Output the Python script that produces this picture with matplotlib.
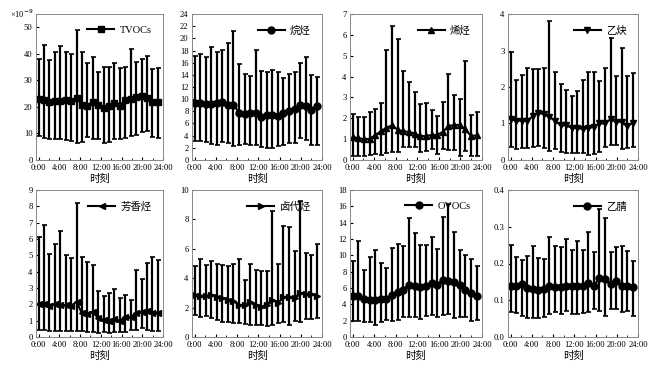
import numpy as np
import matplotlib
matplotlib.use("Agg")
import matplotlib.pyplot as plt
from matplotlib.lines import Line2D
from matplotlib.ticker import MultipleLocator, FuncFormatter

plt.rcParams['font.family'] = ['Liberation Serif', 'Noto Sans CJK SC', 'DejaVu Sans']
plt.rcParams['axes.unicode_minus'] = False

# 23 time points across the day
hours = np.linspace(0, 23, 23)

# ---- data: mean / upper / lower ----
tvoc_mean = [22.9, 22.7, 21.9, 22.1, 22.2, 22.7, 22.4, 23.2, 20.8, 20.5, 21.9, 20.8, 19.6, 20.3, 21.4, 20.5, 22.6, 22.9, 23.6, 24.2, 23.2, 21.8, 21.9]
tvoc_up = [38.1, 43.2, 37.6, 40.6, 43.1, 40.6, 39.8, 49.0, 40.6, 36.4, 38.7, 33.1, 34.9, 34.9, 36.6, 34.6, 35.1, 41.9, 36.8, 37.9, 39.3, 34.4, 34.6]
tvoc_lo = [9.2, 8.4, 8.0, 7.9, 7.9, 7.4, 7.2, 6.5, 6.9, 8.5, 7.8, 8.0, 6.5, 6.9, 8.0, 7.9, 8.3, 9.0, 9.3, 10.6, 10.9, 8.6, 8.1]

alk_mean = [9.3, 9.3, 9.2, 9.2, 9.3, 9.5, 9.1, 9.1, 7.8, 7.6, 7.7, 7.7, 7.0, 7.4, 7.4, 7.3, 7.7, 8.0, 8.4, 9.1, 8.9, 8.3, 8.8]
alk_up = [17.1, 17.5, 17.0, 18.6, 17.8, 18.1, 19.3, 21.2, 15.7, 14.1, 13.8, 18.1, 14.6, 14.4, 14.8, 14.4, 13.5, 14.2, 14.4, 16.0, 16.9, 13.9, 13.6]
alk_lo = [3.1, 3.1, 2.9, 2.6, 2.5, 2.9, 2.8, 2.3, 2.5, 2.6, 2.5, 2.4, 2.1, 2.0, 1.9, 2.3, 2.5, 2.8, 2.8, 3.6, 3.3, 2.4, 2.4]

ene_mean = [1.1, 1.05, 1.0, 1.02, 1.18, 1.38, 1.55, 1.66, 1.45, 1.38, 1.35, 1.27, 1.15, 1.15, 1.2, 1.2, 1.35, 1.62, 1.68, 1.68, 1.48, 1.15, 1.18]
ene_up = [2.22, 2.06, 2.06, 2.3, 2.45, 2.74, 5.26, 6.43, 5.8, 4.29, 3.74, 3.28, 2.69, 2.74, 2.39, 2.09, 2.79, 4.12, 3.12, 2.92, 4.75, 2.14, 2.3]
ene_lo = [0.2, 0.2, 0.2, 0.25, 0.28, 0.22, 0.35, 0.4, 0.4, 0.6, 0.62, 0.62, 0.4, 0.45, 0.55, 0.3, 0.55, 0.5, 0.5, 0.2, 0.45, 0.2, 0.2]

yne_mean = [1.12, 1.08, 1.07, 1.08, 1.2, 1.3, 1.25, 1.18, 1.08, 0.95, 0.95, 0.88, 0.88, 0.85, 0.88, 0.9, 1.0, 1.0, 1.12, 1.05, 1.05, 0.92, 1.02]
yne_up = [2.97, 2.2, 2.32, 2.53, 2.5, 2.5, 2.53, 3.8, 2.4, 2.08, 1.92, 1.75, 1.9, 2.2, 2.4, 2.4, 2.17, 2.53, 3.35, 2.3, 3.08, 2.3, 2.38]
yne_lo = [0.35, 0.3, 0.32, 0.32, 0.35, 0.38, 0.32, 0.25, 0.3, 0.22, 0.2, 0.18, 0.18, 0.18, 0.15, 0.17, 0.22, 0.35, 0.4, 0.4, 0.3, 0.32, 0.35]

aro_mean = [2.05, 2.0, 1.9, 2.05, 1.95, 1.95, 1.9, 2.15, 1.45, 1.4, 1.55, 1.15, 1.05, 1.0, 1.1, 1.0, 1.2, 1.2, 1.5, 1.55, 1.6, 1.5, 1.5]
aro_up = [6.1, 6.85, 5.1, 5.72, 6.5, 5.0, 4.82, 8.22, 4.88, 4.6, 4.4, 2.8, 2.48, 2.72, 2.92, 2.37, 2.55, 2.25, 4.08, 3.57, 4.55, 4.9, 4.72]
aro_lo = [0.45, 0.4, 0.38, 0.35, 0.35, 0.38, 0.35, 0.35, 0.35, 0.3, 0.3, 0.25, 0.28, 0.22, 0.3, 0.3, 0.3, 0.4, 0.45, 0.55, 0.4, 0.38, 0.35]

hal_mean = [2.85, 2.8, 2.8, 2.85, 2.75, 2.65, 2.55, 2.45, 2.15, 2.2, 2.35, 2.15, 2.05, 2.2, 2.55, 2.3, 2.7, 2.75, 2.65, 3.0, 2.95, 2.9, 2.8]
hal_up = [4.8, 5.3, 4.9, 5.2, 5.0, 4.9, 4.85, 5.0, 5.3, 3.9, 5.0, 4.55, 4.5, 4.5, 8.6, 5.0, 7.55, 7.45, 5.85, 9.25, 5.7, 5.55, 6.3]
hal_lo = [1.5, 1.35, 1.45, 1.3, 1.15, 1.05, 1.0, 0.95, 0.92, 0.9, 0.85, 0.8, 0.8, 0.78, 0.8, 0.95, 1.0, 0.85, 1.1, 1.0, 1.25, 1.25, 1.3]

ovoc_mean = [5.0, 5.0, 4.6, 4.5, 4.5, 4.6, 4.7, 5.2, 5.5, 5.8, 6.4, 6.3, 6.1, 6.3, 6.6, 6.4, 7.0, 6.8, 6.7, 6.4, 5.8, 5.4, 5.0]
ovoc_up = [9.3, 11.7, 8.2, 9.8, 10.6, 9.1, 8.5, 10.9, 11.4, 11.2, 14.6, 12.7, 11.3, 11.3, 12.2, 10.8, 14.7, 16.3, 12.9, 10.7, 10.0, 9.6, 8.7]
ovoc_lo = [1.9, 2.0, 1.8, 1.8, 1.5, 1.8, 2.1, 1.9, 2.1, 2.5, 2.5, 2.4, 2.2, 2.6, 2.7, 2.5, 2.7, 2.8, 2.3, 2.4, 2.4, 2.0, 2.1]

acn_mean = [0.138, 0.14, 0.143, 0.133, 0.131, 0.128, 0.13, 0.138, 0.137, 0.135, 0.14, 0.138, 0.14, 0.14, 0.148, 0.14, 0.16, 0.157, 0.143, 0.153, 0.138, 0.14, 0.135]
acn_up = [0.25, 0.218, 0.21, 0.22, 0.248, 0.215, 0.213, 0.272, 0.248, 0.245, 0.267, 0.237, 0.26, 0.237, 0.285, 0.232, 0.347, 0.323, 0.232, 0.246, 0.248, 0.235, 0.207]
acn_lo = [0.068, 0.065, 0.058, 0.053, 0.053, 0.053, 0.055, 0.063, 0.067, 0.063, 0.07, 0.063, 0.063, 0.065, 0.068, 0.075, 0.072, 0.058, 0.077, 0.075, 0.068, 0.07, 0.057]

panels = [
    ("TVOCs", "s", tvoc_mean, tvoc_up, tvoc_lo, 55, 10, "%d"),
    ("烷烃", "o", alk_mean, alk_up, alk_lo, 24, 2, "%d"),
    ("烯烃", "^", ene_mean, ene_up, ene_lo, 7, 1, "%d"),
    ("乙炔", "v", yne_mean, yne_up, yne_lo, 4, 1, "%d"),
    ("芳香烃", "<", aro_mean, aro_up, aro_lo, 9, 1, "%d"),
    ("卤代烃", ">", hal_mean, hal_up, hal_lo, 10, 2, "%d"),
    ("OVOCs", "o", ovoc_mean, ovoc_up, ovoc_lo, 18, 2, "%d"),
    ("乙腈", "o", acn_mean, acn_up, acn_lo, 0.4, 0.1, "%.1f"),
]

W, H = 658, 368
lefts = [36, 192, 350, 508]
widths = [127, 130, 132, 130]
rows = [(14, 160), (190, 337)]

fig = plt.figure(figsize=(6.58, 3.68), dpi=100)

for i, (name, mk, m, up, lo, ymax, step, fmt) in enumerate(panels):
    r, c = divmod(i, 4)
    top, bot = rows[r]
    ax = fig.add_axes([lefts[c] / W, 1 - bot / H, widths[c] / W, (bot - top) / H])
    m = np.array(m)
    yerr = [m - np.array(lo), np.array(up) - m]
    ax.errorbar(hours, m, yerr=yerr, color="black", ecolor="black", elinewidth=1.6,
                capsize=1.8, capthick=1.2, marker=mk, markersize=5, lw=1.5)
    ax.set_xlim(-0.5, 24)
    ax.set_ylim(0, ymax)
    ax.xaxis.set_major_locator(MultipleLocator(4))
    ax.xaxis.set_minor_locator(MultipleLocator(2))
    ax.xaxis.set_major_formatter(FuncFormatter(lambda v, p: "%d:00" % int(round(v))))
    ax.yaxis.set_major_locator(MultipleLocator(step))
    ax.yaxis.set_major_formatter(FuncFormatter(lambda v, p, f=fmt: f % v))
    ax.tick_params(direction="in", labelsize=6.2, length=2.5)
    ax.tick_params(axis="x", pad=3)
    ax.tick_params(axis="y", pad=2.5)
    ax.tick_params(which="minor", direction="in", length=1.5)
    for s in ax.spines.values():
        s.set_color("#888888")
        s.set_linewidth(0.7)
    ax.set_xlabel("时刻", fontsize=7.5, labelpad=1)
    handle = Line2D([], [], color="black", marker=mk, markersize=5, lw=1.5)
    ax.legend([handle], [name], loc="upper right", frameon=False, fontsize=7.5,
              handlelength=2.6, borderaxespad=0.7, handletextpad=0.5)
    if i == 0:
        ax.text(-0.02, 1.0, "×10$^{-9}$", transform=ax.transAxes, ha="right",
                va="center", fontsize=6)

fig.savefig("out.png", dpi=100)
